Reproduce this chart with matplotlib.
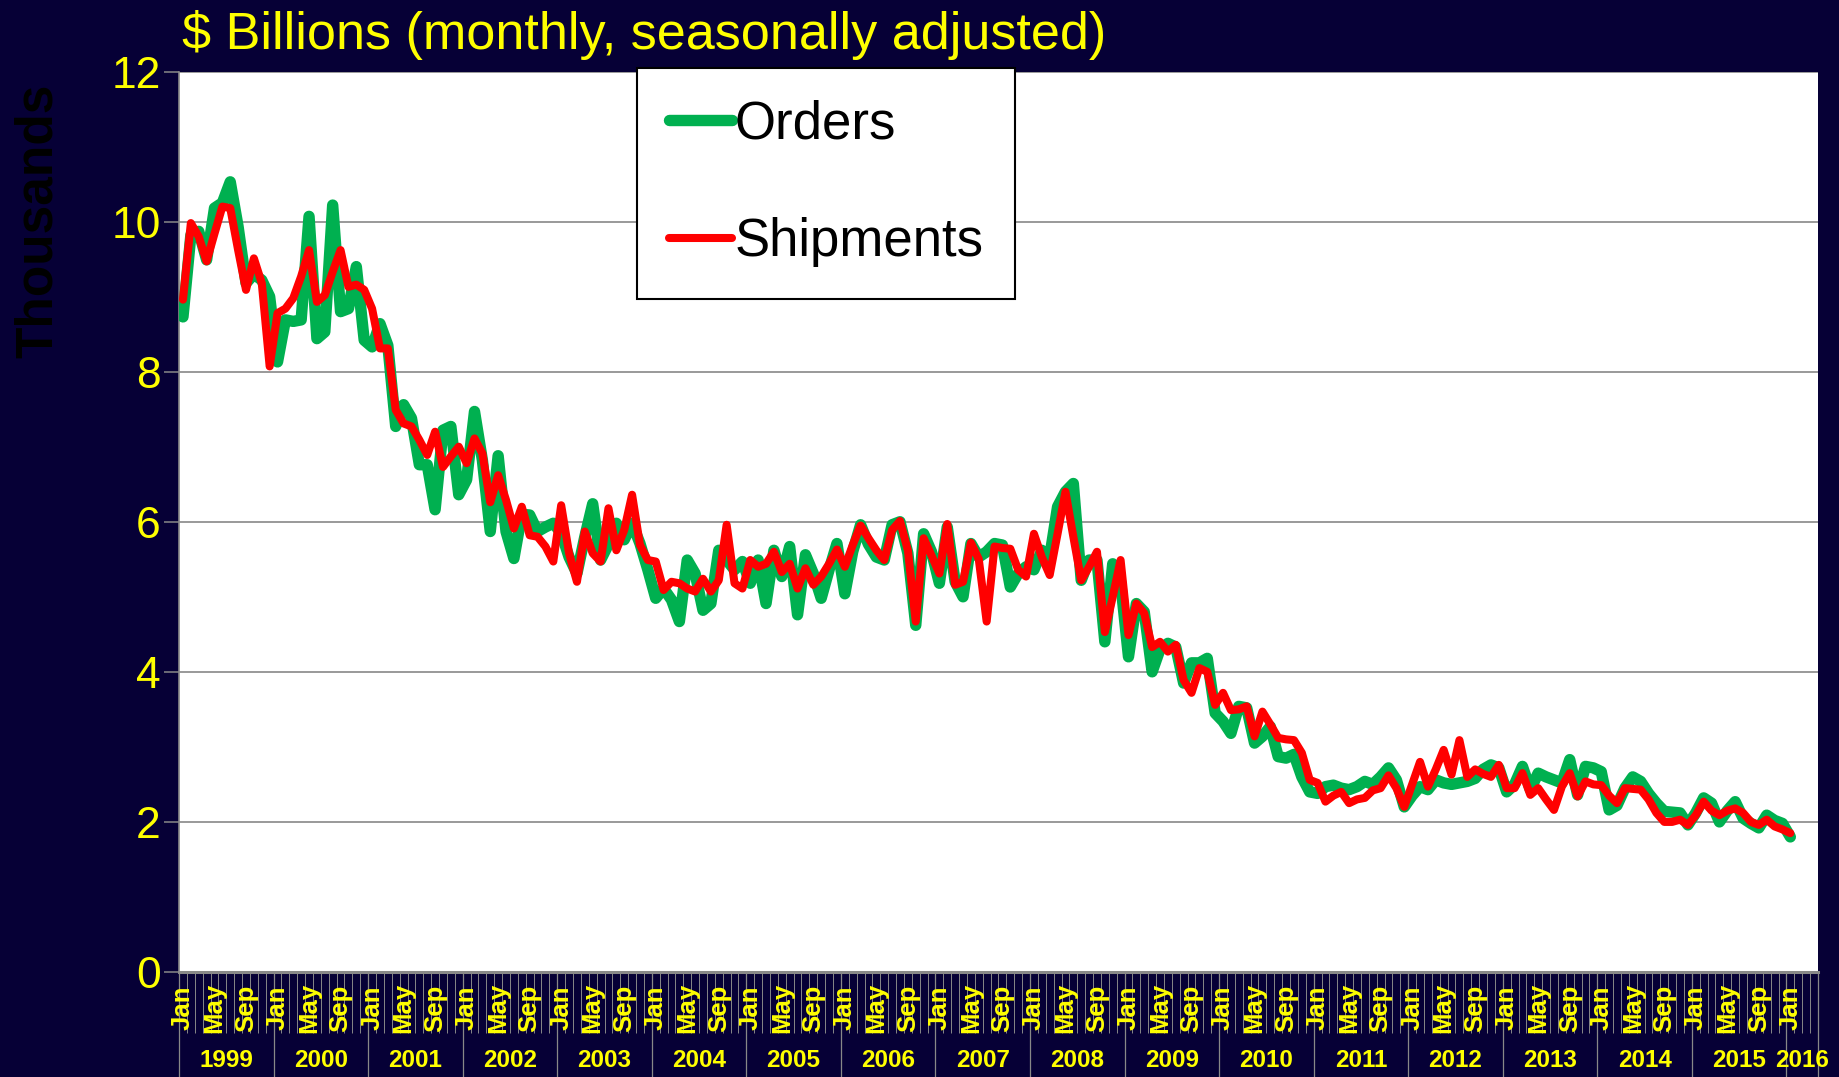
import matplotlib
matplotlib.use('Agg')
import matplotlib.pyplot as plt
import numpy as np

plt.rcParams['font.family'] = ['Liberation Sans', 'DejaVu Sans']

# monthly values, Jan 1999 .. Jan 2016 (thousands)
orders = [
    8.73, 9.82, 9.87, 9.49, 10.18, 10.25, 10.53, 9.93, 9.18, 9.30, 9.22, 9.00,   # 1999
    8.13, 8.69, 8.67, 8.69, 10.07, 8.44, 8.53, 10.22, 8.80, 8.84, 9.40, 8.42,    # 2000
    8.33, 8.64, 8.35, 7.27, 7.56, 7.38, 6.76, 6.76, 6.16, 7.22, 7.27, 6.36,      # 2001
    6.56, 7.47, 6.82, 5.87, 6.88, 5.87, 5.51, 6.10, 6.09, 5.87, 5.93, 5.98,      # 2002
    5.85, 5.53, 5.31, 5.80, 6.24, 5.49, 5.70, 5.98, 5.76, 5.98, 5.71, 5.36,      # 2003
    4.98, 5.11, 4.96, 4.67, 5.49, 5.31, 4.82, 4.91, 5.62, 5.49, 5.36, 5.47,      # 2004
    5.18, 5.49, 4.91, 5.62, 5.27, 5.67, 4.76, 5.56, 5.31, 4.98, 5.36, 5.71,      # 2005
    5.04, 5.60, 5.96, 5.70, 5.53, 5.49, 5.96, 6.00, 5.58, 4.62, 5.84, 5.60,      # 2006
    5.18, 5.93, 5.20, 5.00, 5.71, 5.53, 5.60, 5.71, 5.69, 5.13, 5.31, 5.40,      # 2007
    5.36, 5.62, 5.53, 6.20, 6.40, 6.51, 5.22, 5.49, 5.49, 4.40, 5.44, 5.20,      # 2008
    4.20, 4.91, 4.80, 4.00, 4.30, 4.38, 4.33, 3.85, 4.12, 4.12, 4.18, 3.45,      # 2009
    3.34, 3.18, 3.54, 3.52, 3.05, 3.14, 3.27, 2.87, 2.85, 2.90, 2.60, 2.40,      # 2010
    2.38, 2.47, 2.49, 2.45, 2.43, 2.47, 2.54, 2.50, 2.60, 2.72, 2.56, 2.20,      # 2011
    2.35, 2.47, 2.43, 2.56, 2.52, 2.50, 2.52, 2.54, 2.58, 2.70, 2.76, 2.72,      # 2012
    2.40, 2.50, 2.74, 2.43, 2.65, 2.60, 2.56, 2.52, 2.83, 2.36, 2.74, 2.72,      # 2013
    2.67, 2.16, 2.22, 2.45, 2.60, 2.54, 2.38, 2.25, 2.14, 2.13, 2.12, 1.96,      # 2014
    2.12, 2.32, 2.25, 2.00, 2.15, 2.27, 2.05, 1.98, 1.92, 2.09, 2.02, 1.98,      # 2015
    1.80,                                                                        # 2016
]
shipments = [
    8.96, 9.98, 9.80, 9.47, 9.84, 10.20, 10.18, 9.62, 9.09, 9.51, 9.18, 8.07,    # 1999
    8.78, 8.84, 8.98, 9.27, 9.62, 8.93, 9.02, 9.33, 9.62, 9.13, 9.16, 9.09,      # 2000
    8.84, 8.31, 8.31, 7.49, 7.31, 7.27, 7.09, 6.89, 7.20, 6.73, 6.87, 7.00,      # 2001
    6.78, 7.11, 6.91, 6.26, 6.62, 6.29, 5.91, 6.20, 5.82, 5.80, 5.67, 5.47,      # 2002
    6.22, 5.58, 5.20, 5.87, 5.58, 5.47, 6.18, 5.62, 5.89, 6.36, 5.69, 5.49,      # 2003
    5.47, 5.09, 5.20, 5.18, 5.11, 5.07, 5.24, 5.07, 5.22, 5.96, 5.18, 5.11,      # 2004
    5.49, 5.40, 5.44, 5.60, 5.33, 5.44, 5.11, 5.38, 5.16, 5.27, 5.44, 5.63,      # 2005
    5.40, 5.69, 5.95, 5.78, 5.62, 5.49, 5.89, 6.01, 5.62, 4.67, 5.78, 5.55,      # 2006
    5.31, 5.97, 5.16, 5.20, 5.72, 5.50, 4.67, 5.67, 5.65, 5.64, 5.36, 5.27,      # 2007
    5.84, 5.53, 5.29, 5.84, 6.40, 5.80, 5.22, 5.40, 5.60, 4.53, 5.00, 5.49,      # 2008
    4.49, 4.91, 4.78, 4.33, 4.40, 4.27, 4.36, 3.89, 3.72, 4.05, 4.00, 3.56,      # 2009
    3.72, 3.49, 3.50, 3.54, 3.14, 3.47, 3.30, 3.12, 3.10, 3.09, 2.92, 2.56,      # 2010
    2.52, 2.27, 2.35, 2.40, 2.25, 2.30, 2.32, 2.42, 2.45, 2.62, 2.45, 2.20,      # 2011
    2.50, 2.80, 2.47, 2.70, 2.96, 2.63, 3.09, 2.60, 2.70, 2.64, 2.60, 2.76,      # 2012
    2.45, 2.45, 2.65, 2.36, 2.45, 2.30, 2.16, 2.47, 2.65, 2.34, 2.54, 2.50,      # 2013
    2.49, 2.35, 2.25, 2.45, 2.44, 2.43, 2.30, 2.12, 2.00, 2.00, 2.03, 1.96,      # 2014
    2.09, 2.27, 2.15, 2.09, 2.15, 2.18, 2.12, 2.00, 1.96, 2.03, 1.94, 1.90,      # 2015
    1.85,                                                                        # 2016
]
years = list(range(1999, 2017))
month_names = ['Jan', 'Feb', 'Mar', 'Apr', 'May', 'Jun',
               'Jul', 'Aug', 'Sep', 'Oct', 'Nov', 'Dec']
yticks = [0, 2, 4, 6, 8, 10, 12]
n_cats = 208  # category axis runs on to Apr 2016

BG = '#060036'
YEL = '#FFFF00'
GRAY = '#888888'

fig = plt.figure(figsize=(18.4, 10.77), dpi=100, facecolor=BG)
ax = fig.add_axes([0.0973, 0.0975, 0.8907, 0.8361])
ax.set_facecolor('white')

x = np.arange(len(orders))
ax.plot(x, orders, color='#00B050', lw=8.2, solid_joinstyle='round',
        solid_capstyle='round', label='Orders', zorder=3)
ax.plot(x, shipments, color='#FF0000', lw=5.8, solid_joinstyle='round',
        solid_capstyle='round', label='Shipments', zorder=4)

ax.set_ylim(0, 12)
ax.set_xlim(-0.5, n_cats - 0.5)
ax.set_yticks(yticks)
ax.set_yticklabels([str(v) for v in yticks])
ax.yaxis.grid(True, color=GRAY, lw=1.2)
ax.set_axisbelow(True)
ax.tick_params(axis='y', labelsize=32, labelcolor=YEL, color=GRAY,
               length=11, width=1.1, pad=2)

for s in ['top', 'right']:
    ax.spines[s].set_visible(False)
ax.spines['left'].set_color(GRAY)
ax.spines['left'].set_linewidth(1.2)
ax.spines['bottom'].set_color(GRAY)
ax.spines['bottom'].set_linewidth(2.2)

# month dividers and year dividers
year_edges = [-0.5 + 12 * k for k in range(len(years))] + [n_cats - 0.5]
ax.set_xticks(year_edges)
ax.set_xticks(np.arange(-0.5, n_cats, 1.0), minor=True)
ax.tick_params(axis='x', which='major', length=76, width=0.9, color=GRAY,
               labelbottom=False)
ax.tick_params(axis='x', which='minor', length=44, width=0.7, color=GRAY,
               labelbottom=False)

tr = ax.get_xaxis_transform()
for i in range(0, n_cats, 4):
    ax.text(i, -0.040, month_names[i % 12], transform=tr, rotation=90,
            ha='center', va='center', fontsize=18.5, fontweight='bold',
            color=YEL, clip_on=False)
for k, yr in enumerate(years):
    lo = 12 * k
    hi = min(12 * k + 12, n_cats)
    ax.text((lo + hi - 1) / 2, -0.098, str(yr), transform=tr,
            ha='center', va='center', fontsize=17.5, fontweight='bold',
            color=YEL, clip_on=False)

fig.text(182 / 1840, 1 - 49 / 1077, '$ Billions (monthly, seasonally adjusted)',
         ha='left', va='baseline', fontsize=37.5, color=YEL)
fig.text(38 / 1840, 1 - 221 / 1077, 'Thousands', rotation=90,
         ha='center', va='center', fontsize=37, fontweight='bold', color='#000000')

leg = ax.legend(loc='upper left', bbox_to_anchor=(637 / 1840, 1 - 68 / 1077),
                bbox_transform=fig.transFigure, prop={'size': 38},
                frameon=True, fancybox=False, edgecolor='black', framealpha=1,
                borderpad=0.6, labelspacing=1.28, handlelength=1.2,
                handletextpad=0.05, borderaxespad=0)
leg.get_frame().set_linewidth(1.5)

fig.savefig('out.png', dpi=100, facecolor=BG)
